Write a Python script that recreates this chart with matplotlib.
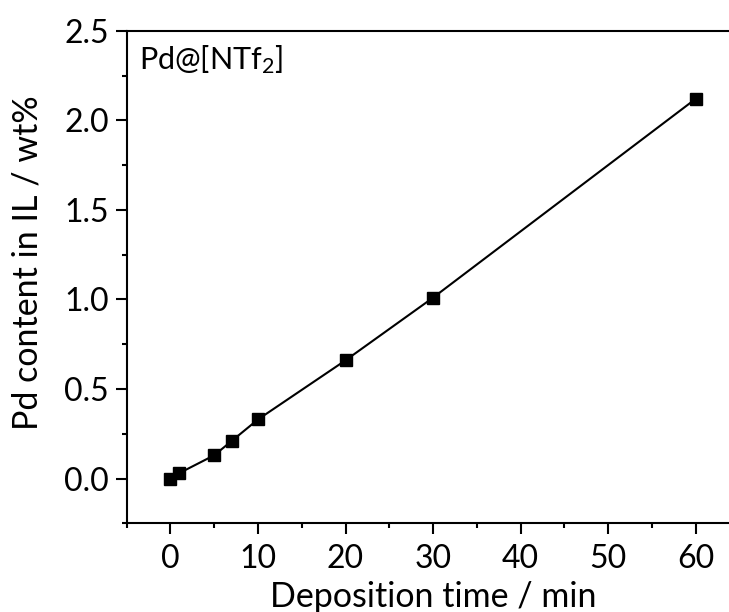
import matplotlib.pyplot as plt
from matplotlib.ticker import MultipleLocator

time_min = [0, 1, 5, 7, 10, 20, 30, 60]
pd_content = [0.0, 0.03, 0.13, 0.21, 0.33, 0.66, 1.01, 2.12]

plt.rcParams['font.family'] = ['Lato', 'DejaVu Sans']
plt.rcParams['mathtext.default'] = 'regular'

fig = plt.figure(figsize=(7.29, 6.12), dpi=100)
# axes run a bit past the right edge, like the cropped original
ax = fig.add_axes([0.1738, 0.1449, 0.8406, 0.8049])

ax.plot(time_min, pd_content, color='black', lw=1.5, marker='s', ms=8.5, mew=1)

ax.set_xlim(-5, 65)
ax.set_ylim(-0.25, 2.5)
ax.xaxis.set_major_locator(MultipleLocator(10))
ax.xaxis.set_minor_locator(MultipleLocator(5))
ax.yaxis.set_major_locator(MultipleLocator(0.5))
ax.yaxis.set_minor_locator(MultipleLocator(0.25))
ax.yaxis.set_major_formatter(plt.FormatStrFormatter('%.1f'))

ax.spines['right'].set_visible(False)
for s in ['left', 'bottom', 'top']:
    ax.spines[s].set_linewidth(1.5)
ax.tick_params(which='major', direction='out', length=8, width=1.5,
               labelsize=23, pad=5)
ax.tick_params(axis='x', which='major', pad=7)
ax.tick_params(which='minor', direction='out', length=3.6, width=1.5)
ax.tick_params(top=False, right=False)

ax.set_xlabel('Deposition time / min', fontsize=24.5, labelpad=5)
ax.set_ylabel('Pd content in IL / wt%', fontsize=24.5)
ax.yaxis.set_label_coords(-0.135, 0.53)
ax.text(0.02, 0.975, 'Pd@[NTf$_2$]', transform=ax.transAxes, fontsize=22,
        va='top', ha='left')

fig.savefig('out.png', dpi=100)
